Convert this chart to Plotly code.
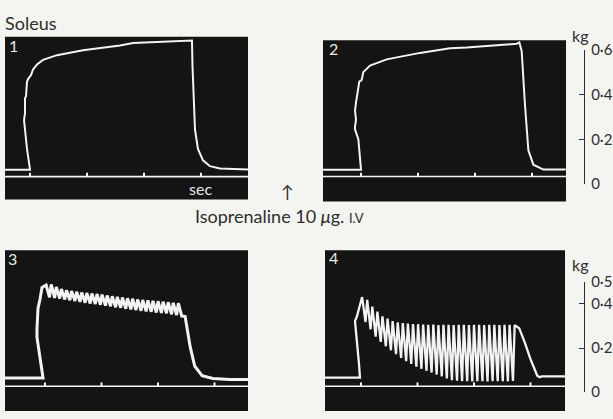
import plotly.graph_objects as go

W, H = 613, 419

# ---------------- data (time in s, tension in kg) ----------------
# Panel 1 (control)
p1_t = [-0.439, 0.0, -0.053, -0.088, -0.105, -0.105, -0.088, -0.088, -0.070, -0.053, -0.035,
        0.018, 0.053, 0.123, 0.228, 0.474, 0.930, 1.579, 1.807, 2.404, 2.807,
        2.842, 2.851, 2.895, 2.947, 3.035, 3.158, 3.333, 3.825]
p1_kg = [0.065, 0.065, 0.158, 0.244, 0.265, 0.287, 0.317, 0.385, 0.394, 0.458, 0.470,
         0.488, 0.513, 0.535, 0.556, 0.577, 0.599, 0.620, 0.631, 0.639, 0.643,
         0.642, 0.530, 0.244, 0.158, 0.107, 0.081, 0.071, 0.066]

# Panel 2 (control)
p2_t = [-0.667, 0.0, -0.047, -0.105, -0.105, -0.088, -0.105, -0.088, -0.030, 0.012, 0.040,
        0.100, 0.158, 0.450, 1.035, 1.560, 1.854, 2.439, 2.732, 2.778,
        2.819, 2.877, 2.936, 3.023, 3.199, 3.591]
p2_kg = [0.064, 0.064, 0.201, 0.244, 0.258, 0.287, 0.329, 0.365, 0.458, 0.465, 0.500,
         0.515, 0.529, 0.557, 0.586, 0.607, 0.610, 0.621, 0.627, 0.633,
         0.593, 0.351, 0.151, 0.087, 0.065, 0.065]

# Panel 3 (after isoprenaline): unfused tetanus, peaks and troughs of each twitch
p3_rise_t = [-0.708, -0.035, -0.071, -0.124, -0.142, -0.142, -0.124, -0.088, -0.071, -0.053]
p3_rise_kg = [0.064, 0.064, 0.127, 0.235, 0.248, 0.288, 0.379, 0.422, 0.452, 0.474]
p3_peak_t = [0.02, 0.11, 0.20, 0.29, 0.38, 0.47, 0.56, 0.65, 0.74, 0.83, 0.92, 1.01, 1.10,
             1.19, 1.28, 1.37, 1.46, 1.55, 1.64, 1.73, 1.82, 1.91, 2.00, 2.09, 2.18, 2.27,
             2.36]
p3_peak_kg = [0.485, 0.488, 0.477, 0.467, 0.462, 0.458, 0.455, 0.452, 0.449, 0.447, 0.445,
              0.442, 0.438, 0.435, 0.432, 0.429, 0.426, 0.423, 0.420, 0.418, 0.416, 0.414,
              0.412, 0.410, 0.408, 0.405, 0.403]
p3_trough_t = [0.08, 0.17, 0.26, 0.35, 0.44, 0.53, 0.62, 0.71, 0.80, 0.89, 0.98, 1.07, 1.16,
               1.25, 1.34, 1.43, 1.52, 1.61, 1.70, 1.79, 1.88, 1.97, 2.06, 2.15, 2.24, 2.33,
               2.42]
p3_trough_kg = [0.430, 0.427, 0.424, 0.420, 0.416, 0.413, 0.409, 0.405, 0.402, 0.399, 0.396,
                0.392, 0.389, 0.385, 0.382, 0.378, 0.375, 0.372, 0.369, 0.366, 0.364, 0.361,
                0.359, 0.357, 0.353, 0.349, 0.345]
p3_fall_t = [2.46, 2.48, 2.57, 2.65, 2.78, 2.97, 3.27, 3.593]
p3_fall_kg = [0.344, 0.343, 0.205, 0.118, 0.075, 0.062, 0.058, 0.058]

# Panel 4 (after isoprenaline)
p4_rise_t = [-0.637, -0.018, -0.035, -0.071, -0.106, -0.106, -0.071]
p4_rise_kg = [0.066, 0.066, 0.127, 0.214, 0.309, 0.322, 0.344]
p4_peak_t = [0.02, 0.11, 0.20, 0.29, 0.38, 0.47, 0.56, 0.65, 0.74, 0.83, 0.92, 1.01, 1.10,
             1.19, 1.28, 1.37, 1.46, 1.55, 1.64, 1.73, 1.82, 1.91, 2.00, 2.09, 2.18, 2.27,
             2.36, 2.45, 2.54, 2.63, 2.72]
p4_peak_kg = [0.431, 0.418, 0.388, 0.365, 0.344, 0.333, 0.322, 0.316, 0.313, 0.311, 0.309,
              0.308, 0.306, 0.305, 0.306, 0.304, 0.305, 0.305, 0.304, 0.305, 0.305, 0.304,
              0.305, 0.305, 0.304, 0.305, 0.305, 0.304, 0.305, 0.305, 0.304]
p4_trough_t = [0.08, 0.17, 0.26, 0.35, 0.44, 0.53, 0.62, 0.71, 0.80, 0.89, 0.98, 1.07, 1.16,
               1.25, 1.34, 1.43, 1.52, 1.61, 1.70, 1.79, 1.88, 1.97, 2.06, 2.15, 2.24, 2.33,
               2.42, 2.51, 2.60, 2.69]
p4_trough_kg = [0.318, 0.285, 0.252, 0.228, 0.208, 0.190, 0.172, 0.155, 0.141, 0.128, 0.116,
                0.106, 0.097, 0.089, 0.080, 0.072, 0.062, 0.054, 0.052, 0.050, 0.050, 0.049,
                0.050, 0.050, 0.049, 0.050, 0.050, 0.050, 0.049, 0.051]
p4_fall_t = [2.80, 2.90, 3.00, 3.08, 3.12, 3.16, 3.20, 3.611]
p4_fall_kg = [0.290, 0.225, 0.150, 0.095, 0.075, 0.068, 0.072, 0.072]

# time marker (1 s ticks) and its level in each panel
sec_ticks = [0, 1, 2, 3]
time_level = [0.034, 0.034, 0.027, 0.027]

# calibration scales
scale_top_vals = [0, 0.2, 0.4, 0.6]
scale_top_text = ["0", "0·2", "0·4", "0·6"]
scale_bot_vals = [0, 0.2, 0.4, 0.5]
scale_bot_text = ["0", "0·2", "0·4", "0·5"]

# ---------------- layout helpers ----------------
def px(x):
    return x / W

def py(y):
    return 1 - y / H

BG = "#141414"
TRACE = "#f3f3f3"
PAPER = "#f4f4f1"
INK = "#2e2e2e"
FONT = "Lato"

panels = [
    # (x0px, x1px, ytop_px, ybot_px, xrange, yrange)
    (5, 248, 28, 198, [-0.439, 3.825], [-0.068, 0.659]),
    (323, 566, 31.7, 200, [-0.667, 3.596], [-0.077, 0.642]),
    (5, 248, 251, 419, [-0.708, 3.593], [-0.085, 0.643]),
    (325, 565, 251, 419, [-0.637, 3.611], [-0.085, 0.643]),
]


def zigzag(rt, rk, pt, pk, tt, tk, ft, fk):
    xs, ys = list(rt), list(rk)
    for i in range(len(pt)):
        xs.append(pt[i]); ys.append(pk[i])
        if i < len(tt):
            xs.append(tt[i]); ys.append(tk[i])
    xs += ft; ys += fk
    return xs, ys


p3_x, p3_y = zigzag(p3_rise_t, p3_rise_kg, p3_peak_t, p3_peak_kg,
                    p3_trough_t, p3_trough_kg, p3_fall_t, p3_fall_kg)
p4_x, p4_y = zigzag(p4_rise_t, p4_rise_kg, p4_peak_t, p4_peak_kg,
                    p4_trough_t, p4_trough_kg, p4_fall_t, p4_fall_kg)

series = [(p1_t, p1_kg, 2.0), (p2_t, p2_kg, 2.0), (p3_x, p3_y, 3.0), (p4_x, p4_y, 2.3)]

fig = go.Figure()
layout = dict(
    width=W, height=H, autosize=False,
    margin=dict(l=0, r=0, t=0, b=0),
    paper_bgcolor=PAPER, plot_bgcolor="rgba(0,0,0,0)",
    showlegend=False, font=dict(family=FONT, color=INK),
    shapes=[], annotations=[],
)

for i, (x0, x1, yt, yb, xr, yr) in enumerate(panels):
    n = i + 1
    xa, ya = ("x" if n == 1 else f"x{n}"), ("y" if n == 1 else f"y{n}")
    layout[f"xaxis{'' if n == 1 else n}"] = dict(domain=[px(x0), px(x1)], range=xr, visible=False,
                                                   anchor=ya, fixedrange=True)
    layout[f"yaxis{'' if n == 1 else n}"] = dict(domain=[py(yb), py(yt)], range=yr, visible=False,
                                                   anchor=xa, fixedrange=True)
    layout["shapes"].append(dict(type="rect", xref="paper", yref="paper", layer="below",
                                 x0=px(x0), x1=px(x1), y0=py(yb), y1=py(yt),
                                 fillcolor=BG, line=dict(width=0)))
    t, k, lw = series[i]
    fig.add_trace(go.Scatter(x=t, y=k, xaxis=xa, yaxis=ya, mode="lines",
                             line=dict(color=TRACE, width=lw), hoverinfo="skip"))
    # time line with 1-s marks
    fig.add_trace(go.Scatter(x=xr, y=[time_level[i]] * 2, xaxis=xa, yaxis=ya, mode="lines",
                             line=dict(color=TRACE, width=1.6), hoverinfo="skip"))
    fig.add_trace(go.Scatter(x=sec_ticks, y=[time_level[i] + 0.008] * len(sec_ticks),
                             xaxis=xa, yaxis=ya, mode="markers",
                             marker=dict(symbol="line-ns", size=3,
                                         line=dict(color=TRACE, width=2)),
                             hoverinfo="skip"))

# calibration axes
scales = [
    (5, 182, 41.7, scale_top_vals, scale_top_text, [0, 0.6]),
    (6, 399.3, 284, scale_bot_vals, scale_bot_text, [0, 0.5]),
]
for n, yb, yt, vals, txt, rng in scales:
    layout[f"xaxis{n}"] = dict(domain=[0.94, px(584)], range=[0, 1], visible=False,
                               anchor=f"y{n}", fixedrange=True)
    layout[f"yaxis{n}"] = dict(domain=[py(yb), py(yt)], range=rng, anchor=f"x{n}", side="right",
                               showline=True, linecolor=INK, linewidth=1.3,
                               ticks="inside", ticklen=5, tickwidth=1.3, tickcolor=INK,
                               tickvals=vals, ticktext=txt, showgrid=False, zeroline=False,
                               ticklabelstandoff=3,
                               tickfont=dict(family=FONT, size=15, color=INK), fixedrange=True)
    fig.add_trace(go.Scatter(x=[0.5], y=[rng[0]], xaxis=f"x{n}", yaxis=f"y{n}", mode="markers",
                             marker=dict(opacity=0), hoverinfo="skip"))


def ann(text, x, y, size=15, color=INK, xanchor="center"):
    layout["annotations"].append(dict(text=text, x=px(x), y=py(y), xref="paper", yref="paper",
                                      showarrow=False, xanchor=xanchor, yanchor="middle",
                                      font=dict(family=FONT, size=size, color=color)))

ann("Soleus", 3, 14, size=18, xanchor="left")
ann("1", 7, 37, size=16, color="#e8e8e8", xanchor="left")
ann("2", 327, 40, size=16, color="#e8e8e8", xanchor="left")
ann("3", 6, 260, size=16, color="#e8e8e8", xanchor="left")
ann("4", 327, 259, size=16, color="#e8e8e8", xanchor="left")
ann("sec", 200, 187, size=16, color="#e8e8e8")
ann("↑", 287, 190, size=17)
ann("Isoprenaline 10 <i>μ</i>g. <span style='font-size:13px'>I.V</span>", 193, 215, size=18,
    xanchor="left")
ann("kg", 580, 27, size=16)
ann("kg", 580, 266, size=16)

fig.update_layout(**layout)
fig.write_html("out.html", config={"displayModeBar": False},
               post_script="document.body.style.margin='0';document.body.style.padding='0';document.body.style.overflow='hidden';")
